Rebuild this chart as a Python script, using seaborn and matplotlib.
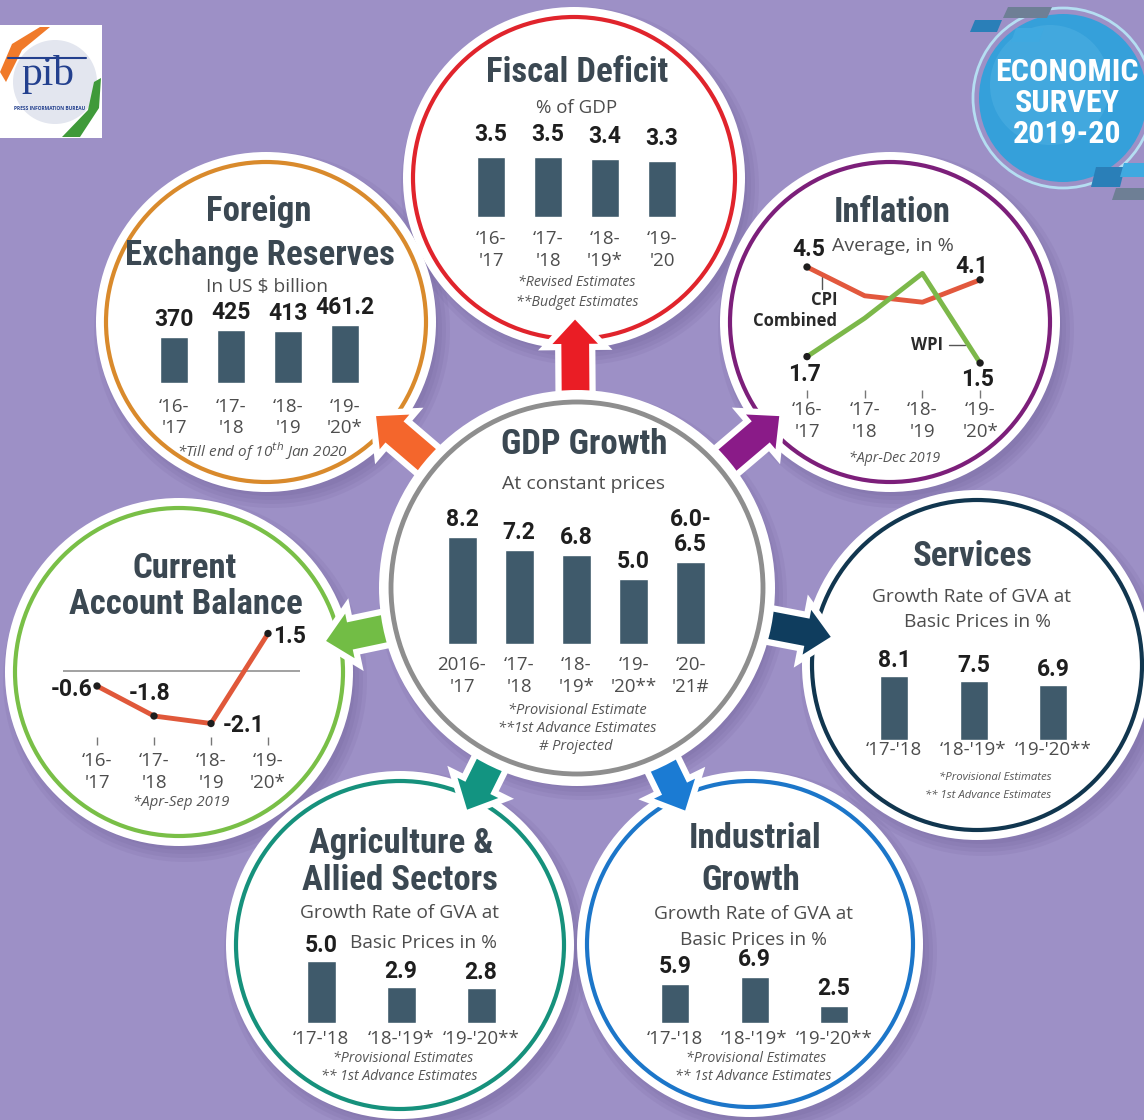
import numpy as np
import pandas as pd
import matplotlib
matplotlib.use("Agg")
import matplotlib.pyplot as plt
import seaborn as sns
from matplotlib import font_manager as fm
from matplotlib.patches import Circle, Polygon, Rectangle

W, H = 1144, 1120

sns.set_theme(style="white")
plt.rcParams["font.family"] = ["Open Sans", "DejaVu Sans"]

# the headings use a narrow bold face; pick the narrowest one that is installed
fonts = fm.fontManager.ttflist
fams = {f.name for f in fonts}
TITLE_STRETCH = "normal"
if "Roboto Condensed" in fams:
    TITLE_FONT, TITLE_SIZE = ["Roboto Condensed", "DejaVu Sans"], 25
elif "Liberation Sans Narrow" in fams:
    TITLE_FONT, TITLE_SIZE = ["Liberation Sans Narrow", "DejaVu Sans"], 25
elif any(f.name == "DejaVu Sans" and f.stretch == "condensed" for f in fonts):
    TITLE_FONT, TITLE_SIZE, TITLE_STRETCH = ["DejaVu Sans"], 21, "condensed"
else:
    TITLE_FONT, TITLE_SIZE = ["Roboto", "DejaVu Sans"], 21
NUM_FONT = ["Roboto", "DejaVu Sans"]
BODY_FONT = ["Open Sans", "DejaVu Sans"]

BG = "#9d90c6"
BAR = "#3f5a6b"
TITLE_C = "#3b4852"
TXT = "#4d4d4d"
NUM_C = "#1e1e1e"

fiscal_years = ["‘16-\n'17", "‘17-\n'18", "‘18-\n'19*", "‘19-\n'20"]
fiscal_deficit = [3.5, 3.5, 3.4, 3.3]

forex_years = ["‘16-\n'17", "‘17-\n'18", "‘18-\n'19", "‘19-\n'20*"]
forex_reserves = [370, 425, 413, 461.2]
forex_labels = ["370", "425", "413", "461.2"]

inflation_years = ["‘16-\n'17", "‘17-\n'18", "‘18-\n'19", "‘19-\n'20*"]
cpi = [4.5, 3.6, 3.4, 4.1]
wpi = [1.7, 2.9, 4.3, 1.5]

cab_years = ["‘16-\n'17", "‘17-\n'18", "‘18-\n'19", "‘19-\n'20*"]
cab = [-0.6, -1.8, -2.1, 1.5]

gdp_years = ["2016-\n'17", "‘17-\n'18", "‘18-\n'19*", "‘19-\n'20**", "‘20-\n'21#"]
gdp_growth = [8.2, 7.2, 6.8, 5.0, 6.25]
gdp_labels = ["8.2", "7.2", "6.8", "5.0", "6.0-\n6.5"]

gva_years = ["‘17-'18", "‘18-'19*", "‘19-'20**"]
services_gva = [8.1, 7.5, 6.9]
agri_gva = [5.0, 2.9, 2.8]
industry_gva = [5.9, 6.9, 2.5]

# circles: name, centre (px), radius, ring colour, arrow colour, arrow tip distance
circles = [
    ("fiscal", (574, 178), 161, "#e0242c", "#ea1d25", 273),
    ("forex", (266, 322), 160, "#d98a2c", "#f4662c", 269),
    ("inflation", (890, 322), 160, "#7c1f7a", "#8a1b88", 270),
    ("cab", (179, 672), 164, "#79bf47", "#72bd45", 261),
    ("services", (977, 665), 165, "#11364f", "#0f3d5e", 263),
    ("agri", (400, 945), 164, "#16917c", "#129481", 252),
    ("industry", (750, 944), 163, "#1c76c9", "#1b7bd3", 252),
]
GDP_C, GDP_R = (577, 588), 186

fig = plt.figure(figsize=(W / 100, H / 100), dpi=100)
fig.patch.set_facecolor(BG)
main = fig.add_axes([0, 0, 1, 1])
main.set_xlim(0, W)
main.set_ylim(H, 0)
main.axis("off")


def ptext(x, y, s, size, family=BODY_FONT, weight="normal", color=TXT, style="normal", ha="center", **kw):
    main.text(x, y, s, fontsize=size, family=family, fontweight=weight, color=color,
              style=style, ha=ha, va="center", zorder=20, **kw)


def note(x, y, s, size=10.2):
    ptext(x, y, s, size, style="italic", color="#555555")


def title(x, y, s, size=TITLE_SIZE):
    ptext(x, y, s, size, family=TITLE_FONT, weight="bold", color=TITLE_C, fontstretch=TITLE_STRETCH)


def shadow(c, r):
    for k in range(4):
        main.add_patch(Circle((c[0] + 6, c[1] + 8), r + 6 + 4 * k, fc="#5b4c86", ec="none",
                              alpha=0.09, zorder=1))


def arrow(c0, c1, tip_d, color, base_d=175, shaft=34, head_w=60, head_l=32):
    v = np.array(c1, float) - np.array(c0, float)
    u = v / np.linalg.norm(v)
    p = np.array([-u[1], u[0]])
    b = np.array(c0) + u * base_d
    t = np.array(c0) + u * tip_d
    hb = t - u * head_l
    pts = [b + p * shaft / 2, hb + p * shaft / 2, hb + p * head_w / 2, t,
           hb - p * head_w / 2, hb - p * shaft / 2, b - p * shaft / 2]
    main.add_patch(Polygon(pts, closed=True, fc=color, ec="white", lw=4.5,
                           joinstyle="miter", zorder=6))


# shadows, discs, rings
for name, c, r, ring, ac, td in circles:
    shadow(c, r)
shadow(GDP_C, GDP_R)
for name, c, r, ring, ac, td in circles:
    main.add_patch(Circle(c, r + 10, fc="white", ec="none", zorder=3))
    main.add_patch(Circle(c, r, fc="none", ec=ring, lw=3, zorder=4))
for name, c, r, ring, ac, td in circles:
    arrow(GDP_C, c, td, ac)
main.add_patch(Circle(GDP_C, GDP_R + 12, fc="white", ec="none", zorder=8))
main.add_patch(Circle(GDP_C, GDP_R, fc="none", ec="#8e8e8e", lw=3.5, zorder=9))


def style_xticks(ax, pad, ticks=False):
    ax.tick_params(axis="x", bottom=ticks, length=6 if ticks else 0, width=1, color="#777777",
                   pad=pad, labelsize=13.5, labelcolor=TXT)
    for lb in ax.get_xticklabels():
        lb.set_fontfamily(BODY_FONT)
        lb.set_linespacing(1.25)


def bar_panel(vals, ticks, x0, step, base, ppu, gap, pad, labels=None, bw=28, num_size=16.5):
    n = len(vals)
    left = x0 - step / 2
    hpx = max(vals) * ppu + 10
    ax = fig.add_axes([left / W, 1 - base / H, n * step / W, hpx / H])
    df = pd.DataFrame({"year": ticks, "value": vals})
    sns.barplot(data=df, x="year", y="value", color=BAR, saturation=1, width=bw / step, ax=ax)
    ax.set_xlim(-0.5, n - 0.5)
    ax.set_ylim(0, hpx / ppu)
    ax.set_xlabel("")
    ax.set_ylabel("")
    ax.set_yticks([])
    sns.despine(ax=ax, left=True, bottom=True)
    ax.patch.set_alpha(0)
    style_xticks(ax, pad)
    if labels is None:
        labels = [f"{v:.1f}" for v in vals]
    for i, (v, lab) in enumerate(zip(vals, labels)):
        ax.annotate(lab, (i, v), xytext=(0, gap), textcoords="offset pixels", ha="center",
                    va="bottom", fontsize=num_size, fontweight="bold", family=NUM_FONT,
                    color=NUM_C, linespacing=1.15, annotation_clip=False)
    return ax


def num_label(ax, xi, v, off, ha="center"):
    ax.annotate(f"{v:.1f}", (xi, v), xytext=off, textcoords="offset pixels", ha=ha, va="center",
                fontsize=16.5, fontweight="bold", family=NUM_FONT, color=NUM_C, annotation_clip=False)


# ---- Fiscal Deficit ----
title(577, 73, "Fiscal Deficit")
ptext(577, 108, "% of GDP", 13.5)
bar_panel(fiscal_deficit, fiscal_years, 491, 57, 217, 17.1, 11, 9.5)
note(577, 283, "*Revised Estimates")
note(577, 302, "**Budget Estimates")

# ---- Foreign Exchange Reserves ----
title(259, 212, "Foreign")
title(260, 255, "Exchange Reserves")
ptext(267, 287, "In US $ billion", 13.8)
bar_panel(forex_reserves, forex_years, 174, 57, 383, 0.125, 6, 10.5, labels=forex_labels)
note(263, 452, "*Till end of 10$^{th}$ Jan 2020", 11)

# ---- Inflation ----
title(892, 212, "Inflation")
ptext(893, 246, "Average, in %", 14)
step = 57.7
y0px, ppu = 411, 32
axi = fig.add_axes([(807 - step / 2) / W, 1 - 390 / H, 4 * step / W, (390 - 250) / H])
dfi = pd.DataFrame({"x": list(range(4)) * 2, "value": cpi + wpi,
                    "series": ["CPI"] * 4 + ["WPI"] * 4})
sns.lineplot(data=dfi, x="x", y="value", hue="series", palette={"CPI": "#e2583d", "WPI": "#7cb84a"},
             lw=3.5, legend=False, ax=axi)
ends = dfi[dfi["x"].isin([0, 3])]
sns.scatterplot(data=ends, x="x", y="value", color="#1e1e1e", s=28, edgecolor="none", ax=axi, zorder=5)
axi.set_xlim(-0.5, 3.5)
axi.set_ylim((y0px - 390) / ppu, (y0px - 250) / ppu)
axi.set_xticks(range(4), inflation_years)
axi.set_yticks([])
axi.set_xlabel("")
axi.set_ylabel("")
sns.despine(ax=axi, left=True, bottom=True)
axi.patch.set_alpha(0)
style_xticks(axi, 2, ticks=True)
num_label(axi, 0, cpi[0], (2, 17))
num_label(axi, 3, cpi[3], (-8, 13))
num_label(axi, 0, wpi[0], (-2, -18))
num_label(axi, 3, wpi[3], (-3, -17))
main.plot([822, 822], [277, 289], color="#555555", lw=1, zorder=20)
ptext(837, 300, "CPI", 12, weight="bold", color="#2a2a2a", ha="right")
ptext(837, 321, "Combined", 12, weight="bold", color="#2a2a2a", ha="right")
ptext(943, 345, "WPI", 12, weight="bold", color="#2a2a2a", ha="right")
main.plot([949, 965], [345, 345], color="#555555", lw=1, zorder=20)
note(895, 458, "*Apr-Dec 2019")

# ---- Current Account Balance ----
title(185, 568, "Current")
title(186, 605, "Account Balance")
step = 57
zero_px, ppu = 671, 25
axc = fig.add_axes([63 / W, 1 - 737 / H, (300 - 63) / W, (737 - 605) / H])
dfc = pd.DataFrame({"x": range(4), "value": cab})
axc.axhline(0, color="#9a9a9a", lw=1.3)
sns.lineplot(data=dfc, x="x", y="value", color="#e0583a", lw=3.5, ax=axc)
sns.scatterplot(data=dfc, x="x", y="value", color="#1e1e1e", s=28, edgecolor="none", ax=axc, zorder=5)
axc.set_xlim((63 - 97) / step, (300 - 97) / step)
axc.set_ylim(-(737 - zero_px) / ppu, (zero_px - 605) / ppu)
axc.set_xticks(range(4), cab_years)
axc.set_yticks([])
axc.set_xlabel("")
axc.set_ylabel("")
sns.despine(ax=axc, left=True, bottom=True)
axc.patch.set_alpha(0)
style_xticks(axc, 5, ticks=True)
num_label(axc, 0, cab[0], (-5, -4), "right")
num_label(axc, 1, cab[1], (-4, 23))
num_label(axc, 2, cab[2], (12, -2), "left")
num_label(axc, 3, cab[3], (5, -3), "left")
note(181, 803, "*Apr-Sep 2019", 10.8)

# ---- GDP Growth ----
title(584, 445, "GDP Growth")
ptext(584, 484, "At constant prices", 14)
bar_panel(gdp_growth, gdp_years, 462, 57.2, 644, 13.05, 6, 9, labels=gdp_labels, bw=29)
note(577, 711, "*Provisional Estimate", 10.5)
note(577, 729, "**1st Advance Estimates", 10.5)
note(576, 747, "# Projected", 10.5)

# ---- Services ----
title(973, 556, "Services")
ptext(972, 597, "Growth Rate of GVA at", 13.8)
ptext(977, 622, "Basic Prices in %", 13.8)
bar_panel(services_gva, gva_years, 894, 79.5, 740, 7.9, 4, 0.5)
note(995, 777, "*Provisional Estimates", 8.2)
note(988, 795, "** 1st Advance Estimates", 8.2)

# ---- Agriculture ----
title(401, 843, "Agriculture &")
title(400, 881, "Allied Sectors")
ptext(400, 913, "Growth Rate of GVA at", 13.8)
ptext(423, 943, "Basic Prices in %", 13.8)
bar_panel(agri_gva, gva_years, 321, 80, 1023, 12.4, 4, 5, bw=29)
note(403, 1058, "*Provisional Estimates")
note(399, 1077, "** 1st Advance Estimates")

# ---- Industrial Growth ----
title(755, 838, "Industrial")
title(751, 881, "Growth")
ptext(754, 914, "Growth Rate of GVA at", 13.8)
ptext(754, 940, "Basic Prices in %", 13.8)
bar_panel(industry_gva, gva_years, 675, 79.5, 1023, 6.65, 6, 5)
note(756, 1058, "*Provisional Estimates")
note(753, 1077, "** 1st Advance Estimates")

# ---- Economic Survey badge ----
main.add_patch(Circle((1063, 98), 90, fc="none", ec="#b5def2", lw=2, zorder=10))
main.add_patch(Circle((1063, 98), 84, fc="#35a0da", ec="none", zorder=10))
main.add_patch(Circle((1050, 85), 60, fc="#5cb8e6", ec="none", alpha=0.35, zorder=10))
for pts, col in [([(1008, 7), (1052, 7), (1047, 18), (1003, 18)], "#6e7f95"),
                 ([(975, 20), (1002, 20), (997, 32), (970, 32)], "#2a7fb8"),
                 ([(1016, 28), (1044, 28), (1039, 42), (1011, 42)], "#3fa9e0"),
                 ([(1096, 167), (1125, 167), (1120, 187), (1091, 187)], "#2a7fb8"),
                 ([(1124, 163), (1144, 163), (1144, 177), (1120, 177)], "#3fa9e0"),
                 ([(1116, 188), (1144, 188), (1144, 200), (1112, 200)], "#6e7f95")]:
    main.add_patch(Polygon(pts, closed=True, fc=col, ec="none", zorder=11))
for y, s in [(72, "ECONOMIC"), (103, "SURVEY"), (134, "2019-20")]:
    ptext(1067, y, s, TITLE_SIZE - 2, family=TITLE_FONT, weight="bold", color="white",
          fontstretch=TITLE_STRETCH)

# ---- PIB logo ----
main.add_patch(Rectangle((0, 25), 102, 113, fc="white", ec="none", zorder=10))
main.add_patch(Circle((55, 82), 42, fc="#e3e6ef", ec="none", zorder=10))
main.add_patch(Polygon([(0, 72), (12, 44), (40, 27), (50, 27), (22, 50), (6, 82)],
                       closed=True, fc="#f07a2a", ec="none", zorder=11))
main.add_patch(Polygon([(101, 78), (99, 108), (80, 137), (62, 137), (88, 110), (94, 82)],
                       closed=True, fc="#3f9a3a", ec="none", zorder=11))
main.plot([8, 86], [58, 58], color="#23408e", lw=1.5, zorder=12)
ptext(48, 75, "pib", 30, family=["Liberation Serif", "DejaVu Serif"], color="#23408e")
ptext(50, 109, "PRESS INFORMATION BUREAU", 3.5, weight="bold", color="#23408e")

fig.savefig("out.png", dpi=100, facecolor=BG)
